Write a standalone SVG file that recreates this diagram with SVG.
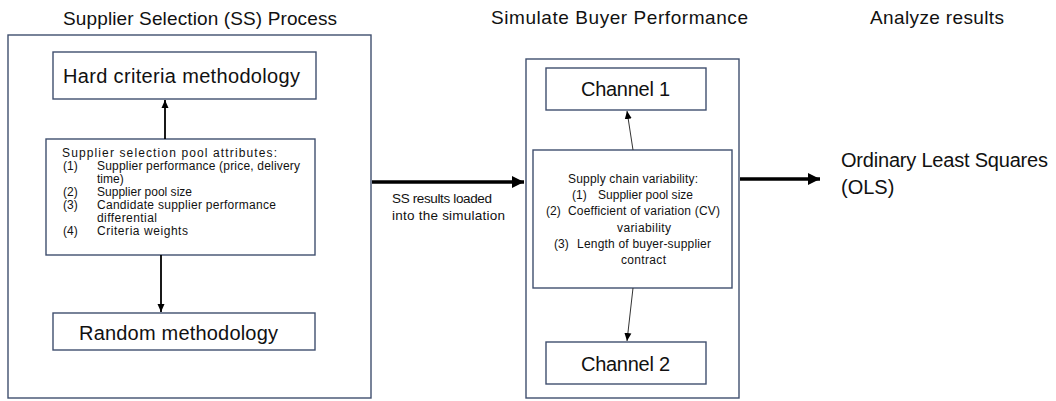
<svg xmlns="http://www.w3.org/2000/svg" width="1056" height="401" viewBox="0 0 1056 401">
<style>
.box{fill:#fff;stroke:#3f4f6e;stroke-width:1.4}
.t{font-family:"Liberation Sans",Arial,sans-serif;fill:#111}
.title{font-size:19px}
.big{font-size:20px}
.sm{font-size:12px}
.mid{font-size:12px}
.lab{font-size:13.5px}
.thick{stroke:#000;stroke-width:3.5;fill:none}
.med{stroke:#000;stroke-width:1.8;fill:none}
.thin{stroke:#333;stroke-width:1;fill:none}
</style>
<defs>
<marker id="ah" markerUnits="userSpaceOnUse" markerWidth="12" markerHeight="12" viewBox="0 0 12 12" refX="12" refY="6" orient="auto"><path d="M0,0 L12,6 L0,12 z" fill="#000"/></marker>
<marker id="ahs" markerUnits="userSpaceOnUse" markerWidth="8" markerHeight="8" viewBox="0 0 8 8" refX="8" refY="4" orient="auto"><path d="M0,0.5 L8,4 L0,7.5 z" fill="#000"/></marker>
</defs>
<rect width="1056" height="401" fill="#fff"/>
<g id="titles">
<text class="t title" x="63" y="25" textLength="274">Supplier Selection (SS) Process</text>
<text class="t title" x="491" y="24" textLength="257">Simulate Buyer Performance</text>
<text class="t title" x="870" y="24" textLength="134">Analyze results</text>
</g>
<g id="ss-process"><rect class="box" x="8" y="35" width="363" height="363"/></g>
<g id="hard-criteria"><rect class="box" x="53" y="52" width="263" height="47"/>
<text class="t big" x="63" y="83" textLength="237">Hard criteria methodology</text></g>
<g id="pool-attributes"><rect class="box" x="46" y="139" width="269" height="116"/>
<text class="t sm" x="62" y="157" textLength="215">Supplier selection pool attributes:</text>
<text class="t sm" x="63" y="170">(1)</text><text class="t sm" x="97" y="170" textLength="203">Supplier performance (price, delivery</text>
<text class="t sm" x="97" y="183">time)</text>
<text class="t sm" x="63" y="196">(2)</text><text class="t sm" x="97" y="196" textLength="95">Supplier pool size</text>
<text class="t sm" x="63" y="209">(3)</text><text class="t sm" x="97" y="209" textLength="179">Candidate supplier performance</text>
<text class="t sm" x="97" y="222" textLength="60">differential</text>
<text class="t sm" x="63" y="235">(4)</text><text class="t sm" x="97" y="235" textLength="91">Criteria weights</text>
</g>
<g id="random"><rect class="box" x="53" y="313" width="262" height="37"/>
<text class="t big" x="79" y="340" textLength="199">Random methodology</text></g>
<g id="simulate"><rect class="box" x="526" y="59" width="213" height="339"/></g>
<g id="channel1"><rect class="box" x="546" y="68" width="160" height="42"/>
<text class="t big" x="581" y="96" textLength="89">Channel 1</text></g>
<g id="variability"><rect class="box" x="533" y="150" width="199" height="138"/>
<text class="t mid" x="568" y="183" textLength="130">Supply chain variability:</text>
<text class="t mid" x="572" y="199">(1)</text><text class="t mid" x="598" y="199" textLength="95">Supplier pool size</text>
<text class="t mid" x="546" y="215">(2)</text><text class="t mid" x="568" y="215" textLength="152">Coefficient of variation (CV)</text>
<text class="t mid" x="617" y="232" textLength="54">variability</text>
<text class="t mid" x="554" y="248">(3)</text><text class="t mid" x="577" y="248" textLength="134">Length of buyer-supplier</text>
<text class="t mid" x="621" y="264" textLength="45">contract</text>
</g>
<g id="channel2"><rect class="box" x="546" y="342" width="160" height="42"/>
<text class="t big" x="581" y="371" textLength="89">Channel 2</text></g>
<g id="ols">
<text class="t big" x="841" y="167" textLength="207">Ordinary Least Squares</text>
<text class="t big" x="841" y="194">(OLS)</text>
</g>
<g id="connectors">
<line class="med" x1="165" y1="139" x2="165" y2="100" marker-end="url(#ahs)"/>
<line class="med" x1="161" y1="255" x2="161" y2="312" marker-end="url(#ahs)"/>
<line class="thick" x1="372" y1="182" x2="524" y2="182" marker-end="url(#ah)"/>
<text class="t lab" x="392" y="203" textLength="100">SS results loaded</text>
<text class="t lab" x="392" y="220" textLength="113">into the simulation</text>
<line class="thin" x1="633" y1="150" x2="627" y2="111" marker-end="url(#ahs)"/>
<line class="thin" x1="633" y1="288" x2="627" y2="341" marker-end="url(#ahs)"/>
<line class="thick" x1="740" y1="179" x2="820" y2="179" marker-end="url(#ah)"/>
</g>
</svg>
